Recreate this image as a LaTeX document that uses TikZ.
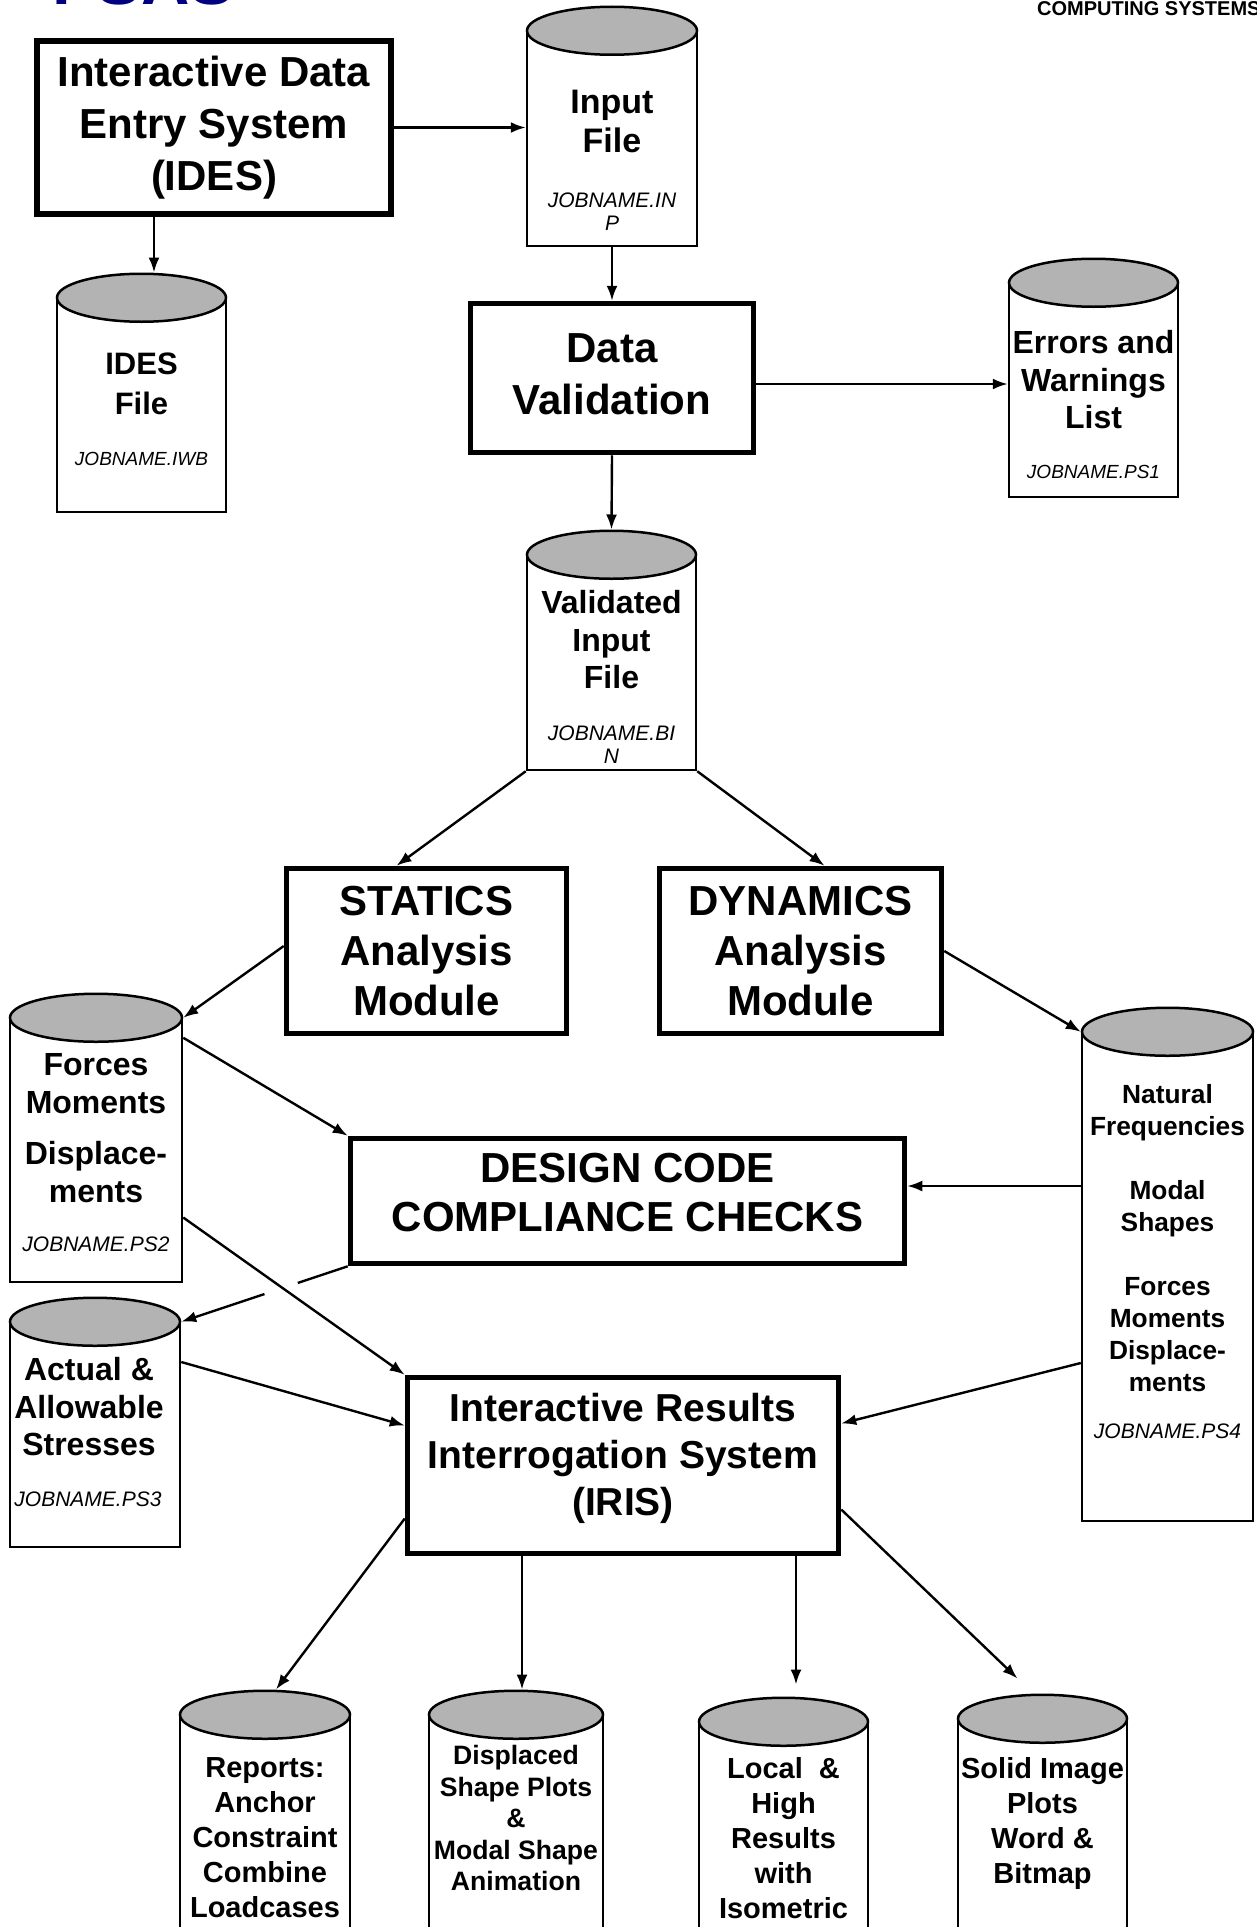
\documentclass[tikz,border=0pt]{standalone}
\usepackage{fontspec}
\setmainfont{Liberation Sans}
\usetikzlibrary{shapes.geometric}
\usetikzlibrary{arrows.meta}
\usetikzlibrary{calc}
\definecolor{lidgray}{RGB}{179,179,179}
\definecolor{logoblue}{RGB}{0,0,128}

\begin{document}
\begin{tikzpicture}[x=1pt, y=-1pt,
        box/.style={draw, line width=5.5pt, align=center, inner sep=0pt, font=\bfseries\fontsize{42}{52}\selectfont},
        store/.style={draw, line width=2.5pt, fill=white, inner sep=0pt},
        lid/.style={draw, ellipse, line width=2.5pt, fill=lidgray, inner sep=0pt, minimum height=48pt},
        note/.style={anchor=north, align=center, inner sep=0pt, font=\bfseries\fontsize{32}{37.5}\selectfont},
        job/.style={anchor=north, align=center, inner sep=0pt, font=\itshape\fontsize{21}{23}\selectfont},
        arr/.style={line width=2.4pt, -{Latex[length=15pt,width=11pt]}},
        link/.style={line width=2.4pt}]
        \useasboundingbox (0,0) rectangle (1256,1927);
        \clip (0,0) rectangle (1256,1927);

        \node[anchor=base west, inner sep=0pt, text=logoblue, font=\bfseries\fontsize{67}{67}\selectfont] (logo) at (52,5) {PSAS};
        \node[anchor=base west, inner sep=0pt, font=\bfseries\fontsize{20}{20}\selectfont] (corp) at (1037,16) {COMPUTING SYSTEMS};

        % program modules
        \node[box, minimum width=354pt, minimum height=173pt]                 (ides) at (214,127.5)   {Interactive Data\\Entry System\\(IDES)};
        \node[box, minimum width=283pt, minimum height=149pt, text depth=7pt] (dv)   at (612,378)     {Data\\Validation};
        \node[box, minimum width=280pt, minimum height=165pt, font=\bfseries\fontsize{42}{50}\selectfont] (stat) at (426.5,951) {STATICS\\Analysis\\Module};
        \node[box, minimum width=282pt, minimum height=165pt, font=\bfseries\fontsize{42}{50}\selectfont] (dyn)  at (800.5,951) {DYNAMICS\\Analysis\\Module};
        \node[box, minimum width=554pt, minimum height=125pt, text depth=18pt, font=\bfseries\fontsize{42}{49}\selectfont] (dccc) at (627.5,1201) {DESIGN CODE\\COMPLIANCE CHECKS};
        \node[box, minimum width=431pt, minimum height=176pt, text depth=22pt, font=\bfseries\fontsize{39}{47}\selectfont] (iris) at (623,1465.5) {Interactive Results\\Interrogation System\\(IRIS)};

        % files
        \node[store, minimum width=170pt, minimum height=214pt] (inp)   at (612,139)     {};
        \node[lid,   minimum width=170pt]                       (inp-lid)   at (inp.north)   {};
        \node[store, minimum width=169pt, minimum height=213pt] (idesf) at (141.5,405.5) {};
        \node[lid,   minimum width=169pt]                       (idesf-lid) at (idesf.north) {};
        \node[store, minimum width=169pt, minimum height=213pt] (err)   at (1093.5,390.5) {};
        \node[lid,   minimum width=169pt]                       (err-lid)   at (err.north)   {};
        \node[store, minimum width=169pt, minimum height=214pt] (val)   at (611.5,663)   {};
        \node[lid,   minimum width=169pt]                       (val-lid)   at (val.north)   {};
        \node[store, minimum width=172pt, minimum height=263pt] (frc)   at (96,1150.5)   {};
        \node[lid,   minimum width=172pt]                       (frc-lid)   at (frc.north)   {};
        \node[store, minimum width=170pt, minimum height=224pt] (act)   at (95,1435)     {};
        \node[lid,   minimum width=170pt]                       (act-lid)   at (act.north)   {};
        \node[store, minimum width=171pt, minimum height=488pt] (nat)   at (1167.5,1277) {};
        \node[lid,   minimum width=171pt]                       (nat-lid)   at (nat.north)   {};
        \node[store, minimum width=170pt, minimum height=244pt] (rep)   at (265,1838)    {};
        \node[lid,   minimum width=170pt]                       (rep-lid)   at (rep.north)   {};
        \node[store, minimum width=174pt, minimum height=244pt] (dsp)   at (516,1838)    {};
        \node[lid,   minimum width=174pt]                       (dsp-lid)   at (dsp.north)   {};
        \node[store, minimum width=169pt, minimum height=237pt] (loc)   at (783.5,1841.5) {};
        \node[lid,   minimum width=169pt]                       (loc-lid)   at (loc.north)   {};
        \node[store, minimum width=169pt, minimum height=240pt] (sol)   at (1042.5,1840) {};
        \node[lid,   minimum width=169pt]                       (sol-lid)   at (sol.north)   {};

        \node[note, font=\bfseries\fontsize{34}{39}\selectfont] (inp-t)   at (612,90)      {Input\\File};
        \node[job]                                              (inp-j)   at (612,192.5)   {JOBNAME.IN\\P};
        \node[note, font=\bfseries\fontsize{31}{40}\selectfont] (idesf-t) at (141.5,353)   {IDES\\File};
        \node[job, font=\itshape\fontsize{19}{22}\selectfont]   (idesf-j) at (141.5,452)   {JOBNAME.IWB};
        \node[note]                                             (err-t)   at (1093.5,330.5) {Errors and\\Warnings\\List};
        \node[job, font=\itshape\fontsize{19}{22}\selectfont]   (err-j)   at (1093.5,465)  {JOBNAME.PS1};
        \node[note]                                             (val-t)   at (611.5,590.5) {Validated\\Input\\File};
        \node[job]                                              (val-j)   at (611.5,725.5) {JOBNAME.BI\\N};
        \node[note]                                             (frc-t)   at (96,1053.5)   {Forces\\Moments\\[14pt]Displace-\\ments};
        \node[job]                                              (frc-j)   at (96,1236.5)   {JOBNAME.PS2};
        \node[note]                                             (act-t)   at (89,1357.5)   {Actual \&\\Allowable\\Stresses};
        \node[job]                                              (act-j)   at (88,1491.5)   {JOBNAME.PS3};
        \node[note, font=\bfseries\fontsize{26.3}{32}\selectfont] (nat-t) at (1167.5,1084.5) {Natural\\Frequencies\\[32pt]Modal\\Shapes\\[32pt]Forces\\Moments\\Displace-\\ments};
        \node[job]                                              (nat-j)   at (1167.5,1423.5) {JOBNAME.PS4};
        \node[note, font=\bfseries\fontsize{29}{35}\selectfont] (rep-t)   at (265,1757.5)  {Reports:\\Anchor\\Constraint\\Combine\\Loadcases};
        \node[note, font=\bfseries\fontsize{26.6}{31.5}\selectfont] (dsp-t) at (516,1745.5) {Displaced\\Shape Plots\\\&\\Modal Shape\\Animation};
        \node[note, font=\bfseries\fontsize{29}{35}\selectfont] (loc-t)   at (783.5,1757.5) {Local~~\&\\High\\Results\\with\\Isometric};
        \node[note, font=\bfseries\fontsize{29}{35}\selectfont] (sol-t)   at (1042.5,1757.5) {Solid Image\\Plots\\Word \&\\Bitmap};

        % data flow
        \draw[arr] (ides.east) -- (ides.east -| inp.west);
        \draw[arr] ([xshift=-60pt]ides.south) -- ([xshift=-60pt]ides.south |- idesf-lid.north);
        \draw[arr] (inp.south) -- (dv.north);
        \draw[arr] ([yshift=-6pt]dv.east) -- ([yshift=-6pt]dv.east -| err.west);
        \draw[arr] (dv.south) -- (val-lid.north);
        \draw[arr] (val.south west) -- ([xshift=-30pt]stat.north);
        \draw[arr] (val.south east) -- ([xshift=24pt]dyn.north);
        \draw[arr] ([yshift=5pt]stat.west) -- (frc.north east);
        \draw[arr] (dyn.east) -- (nat.north west);
        \draw[arr] ([yshift=-20pt]frc.north east) -- (dccc.north west);
        \draw[arr] ([yshift=-67pt]frc.east) -- (iris.north west);

        \coordinate (gapa) at ($(dccc.south west)!0.3!(act.north east)$);
        \coordinate (gapb) at ($(dccc.south west)!0.5!(act.north east)$);
        \draw[link] (dccc.south west) -- (gapa);
        \draw[arr]  (gapb) -- (act.north east);

        \draw[arr] ([yshift=73pt]act.east) -- ([yshift=40pt]iris.west);
        \draw[arr] ([yshift=15pt]dccc.east -| nat.west) -- ([yshift=15pt]dccc.east);
        \draw[arr] ([yshift=-86pt]nat.west) -- ([yshift=42pt]iris.east);

        \draw[arr] ([yshift=-53pt]iris.west) -- ([xshift=11pt]rep-lid.north);
        \draw[arr] ([xshift=-101pt]iris.south) -- ([xshift=-101pt]iris.south |- dsp-lid.north);
        \draw[arr, shorten >=12pt] ([xshift=173pt]iris.south) -- ([xshift=173pt]iris.south |- loc-lid.north);
        \draw[arr] ([yshift=-44pt]iris.east) -- ([xshift=-25pt, yshift=15pt]sol-lid.north);
\end{tikzpicture}
\end{document}
